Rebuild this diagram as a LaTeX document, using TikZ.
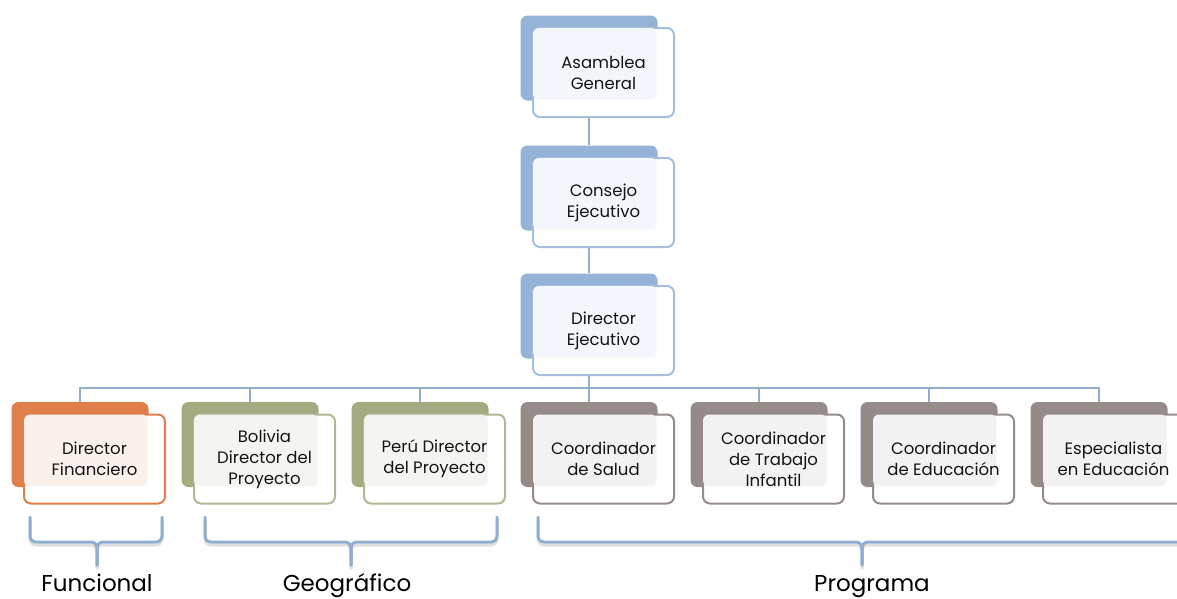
\documentclass[tikz,border=0pt]{standalone}
\usepackage{fontspec}
\setmainfont{Poppins}
\usetikzlibrary{positioning, backgrounds}
\definecolor{blueback}{HTML}{95B3D7}
\definecolor{blueedge}{HTML}{A3BFDD}
\definecolor{bluetint}{HTML}{F3F6FA}
\definecolor{orangeback}{HTML}{E07F4B}
\definecolor{orangetint}{HTML}{FBF1EC}
\definecolor{oliveback}{HTML}{A4AB81}
\definecolor{olivetint}{HTML}{F4F5F0}
\definecolor{grayback}{HTML}{958B89}
\definecolor{graytint}{HTML}{F2F2F2}
\definecolor{lineblue}{HTML}{8FAED0}
\definecolor{textgray}{HTML}{141414}
\tikzstyle{box-back} = [rectangle, rounded corners=7pt, minimum width=137pt, minimum height=85pt, inner sep=0]
\tikzstyle{box-front} = [rectangle, rounded corners=7pt, minimum width=141pt, minimum height=89pt, inner sep=0, fill=white, line width=2pt]
\tikzstyle{box-text} = [align=center, text=textgray, font=\fontsize{16.5}{21}\selectfont, inner sep=0]
\tikzstyle{org-line} = [line width=2pt, draw=lineblue]
\tikzstyle{brace-line} = [line width=3pt, draw=lineblue, line cap=round, rounded corners=6pt]
\tikzstyle{brace-shadow} = [brace-line, draw=black!12]
\tikzstyle{group-label} = [anchor=base, text=black, inner sep=0, font=\fontsize{23}{28}\selectfont]
\newcommand{\OrgBox}[6]{%
    \node (#1_back) [box-back, fill=#3] at (#2) {};
    \node (#1) [box-front, draw=#4] at ([shift={(14.5,14.5)}]#1_back) {};
    \fill[#5, rounded corners=6pt] ([shift={(1,1)}]#1.north west) rectangle ([shift={(-1,-1)}]#1_back.south east);
    \node (#1_text) [box-text] at (#1) {#6};
}
\newcommand{\GroupBrace}[6]{%
    \draw[brace-shadow] (#2,520) -- (#2,545) -- (#4,545) -- (#4,568);
    \draw[brace-shadow] (#3,520) -- (#3,545) -- (#4,545) -- (#4,568);
    \draw[brace-line] (#2,517) -- (#2,542) -- (#4,542) -- (#4,565);
    \draw[brace-line] (#3,517) -- (#3,542) -- (#4,542) -- (#4,565);
    \node (#1) [group-label] at (#5,591) {#6};
}

\begin{document}
\begin{tikzpicture}[x=1pt, y=-1pt]
\useasboundingbox (0,0) rectangle (1177,598);
\clip (0,0) rectangle (1177,598);

% Top of the hierarchy
\OrgBox{ASAMBLEA}{589,58}{blueback}{blueedge}{bluetint}{Asamblea\\General}
\OrgBox{CONSEJO}{589,188}{blueback}{blueedge}{bluetint}{Consejo\\Ejecutivo}
\OrgBox{DIR_EJEC}{589,316}{blueback}{blueedge}{bluetint}{Director\\Ejecutivo}

% Second row
\OrgBox{DIR_FIN}{80,444.5}{orangeback}{orangeback}{orangetint}{Director\\Financiero}
\OrgBox{BOLIVIA}{250,444.5}{oliveback}{oliveback!85}{olivetint}{Bolivia\\Director del\\Proyecto}
\OrgBox{PERU}{420,444.5}{oliveback}{oliveback!85}{olivetint}{Perú Director\\del Proyecto}
\OrgBox{COORD_SALUD}{589,444.5}{grayback}{grayback}{graytint}{Coordinador\\de Salud}
\OrgBox{COORD_TRAB}{759,444.5}{grayback}{grayback}{graytint}{Coordinador\\de Trabajo\\Infantil}
\OrgBox{COORD_EDU}{929,444.5}{grayback}{grayback}{graytint}{Coordinador\\de Educación}
\OrgBox{ESPEC_EDU}{1099,444.5}{grayback}{grayback}{graytint}{Especialista\\en Educación}

% Lines between boxes
\begin{scope}[on background layer]
\draw[org-line] (ASAMBLEA_back.south) -- (CONSEJO_back.north);
\draw[org-line] (CONSEJO_back.south) -- (DIR_EJEC_back.north);
\foreach \child in {DIR_FIN, BOLIVIA, PERU, COORD_SALUD, COORD_TRAB, COORD_EDU, ESPEC_EDU}
    \draw[org-line] (DIR_EJEC_back.south) -- ++(0,29) -| (\child_back.north);
\end{scope}

% Groups
\GroupBrace{FUNCIONAL}{30}{162}{97}{97}{Funcional}
\GroupBrace{GEOGRAFICO}{205}{497}{351}{347}{Geográfico}
\GroupBrace{PROGRAMA}{538}{1186}{862}{872}{Programa}

\end{tikzpicture}
\end{document}
